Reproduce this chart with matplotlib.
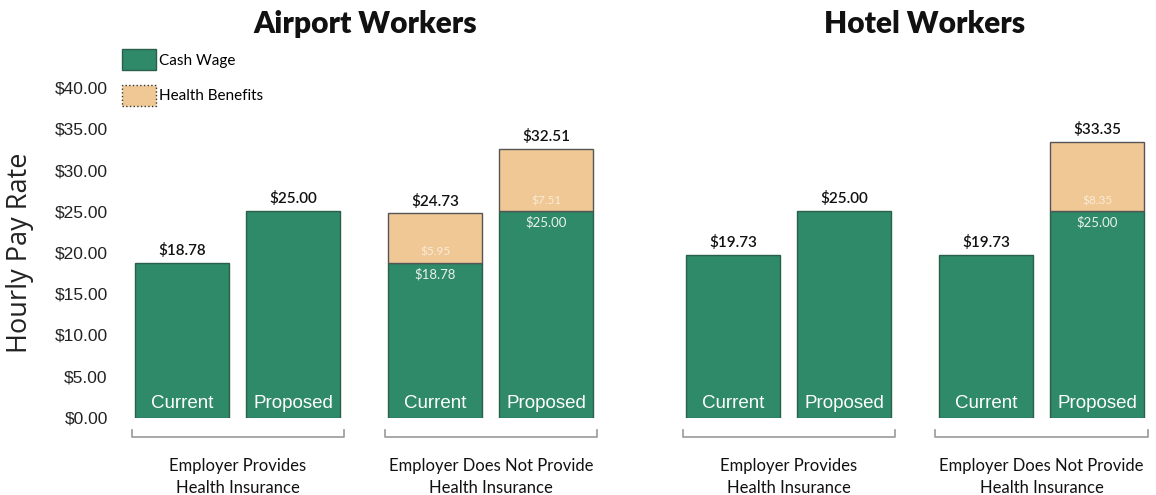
import numpy as np
import matplotlib.pyplot as plt
from matplotlib.patches import Patch

# Hourly pay by worker type, current vs proposed
panels = ['Airport Workers', 'Hotel Workers']
groups = ['Employer Provides\nHealth Insurance', 'Employer Does Not Provide\nHealth Insurance']
bar_names = ['Current', 'Proposed']

airport_wage = [18.78, 25.00, 18.78, 25.00]
airport_benefit = [0.00, 0.00, 5.95, 7.51]
hotel_wage = [19.73, 25.00, 19.73, 25.00]
hotel_benefit = [0.00, 0.00, 0.00, 8.35]

wages = [airport_wage, hotel_wage]
benefits = [airport_benefit, hotel_benefit]

green = '#2e8a68'
green_edge = '#2a5f4a'
tan = '#f0c896'
tan_edge = '#555555'

# layout in bar-width units
bar_step = 1.18
group_step = 2.69
panel_step = 5.86
width = 1.0

fig = plt.figure(figsize=(11.56, 4.95), dpi=100)
ax = fig.add_axes([130 / 1156, 1 - 417.5 / 495, 1 - 130 / 1156, 42 * 8.25 / 495])
ax.set_xlim(-0.558, 10.357)
ax.set_ylim(0, 42)

lab_font = 'Lato'
for p in range(2):
    for g in range(2):
        for b in range(2):
            i = g * 2 + b
            x = p * panel_step + g * group_step + b * bar_step
            w = wages[p][i]
            h = benefits[p][i]
            ax.bar(x, w, width, color=green, edgecolor=green_edge, linewidth=1)
            total = w + h
            if h > 0:
                ax.bar(x, h, width, bottom=w, color=tan, edgecolor=tan_edge, linewidth=1)
                ax.text(x, w - 0.6, f'${w:.2f}', ha='center', va='top', color='#e8f2ec',
                        fontsize=9.5, family=lab_font)
                ax.text(x, w + 0.6, f'${h:.2f}', ha='center', va='bottom', color='#faebd6',
                        fontsize=8.5, family=lab_font)
            ax.text(x, total + 0.6, f'${total:.2f}', ha='center', va='bottom', color='#111111',
                    fontsize=11, family=lab_font, fontweight='semibold')
            ax.text(x, 1.75, bar_names[b], ha='center', va='center', color='white',
                    fontsize=13.5, family='Liberation Sans')

        # bracket under each pair
        x0 = p * panel_step + g * group_step - width / 2 - 0.04
        x1 = x0 + bar_step + width + 0.08
        ax.plot([x0, x0, x1, x1], [-1.5, -2.36, -2.36, -1.5], color='#999999', lw=1.2,
                clip_on=False)
        ax.text((x0 + x1) / 2, -4.9, groups[g], ha='center', va='top', fontsize=12,
                family=lab_font, color='#111111', linespacing=1.5)

    fig.text((365 + p * 560) / 1156, 1 - 24 / 495, panels[p], ha='center', va='center',
             fontsize=21.5, fontweight='heavy', family=lab_font, color='#111111')

ax.set_yticks(np.arange(0, 41, 5))
ax.set_yticklabels([f'${v:.2f}' for v in np.arange(0, 41, 5)], fontsize=12.5,
                   family='Liberation Sans', color='#222222')
ax.tick_params(axis='y', length=0, pad=16)
ax.tick_params(axis='x', bottom=False, labelbottom=False)
for s in ax.spines.values():
    s.set_visible(False)

fig.text(20 / 1156, 1 - 253 / 495, 'Hourly Pay Rate', rotation=90, ha='center', va='center',
         fontsize=19.5, family='Open Sans', color='#222222')

handles = [Patch(facecolor=green, edgecolor=green_edge, label='Cash Wage'),
           Patch(facecolor=tan, edgecolor='#333333', linestyle=':', label='Health Benefits')]
leg = fig.legend(handles=handles, loc='upper left', bbox_to_anchor=(122 / 1156, 1 - 49 / 495),
                 frameon=False, prop={'family': lab_font, 'size': 11},
                 handlelength=2.2, handleheight=1.75, labelspacing=0.95, handletextpad=0.25,
                 borderpad=0, borderaxespad=0)

fig.savefig('out.png', dpi=100, facecolor='white')
